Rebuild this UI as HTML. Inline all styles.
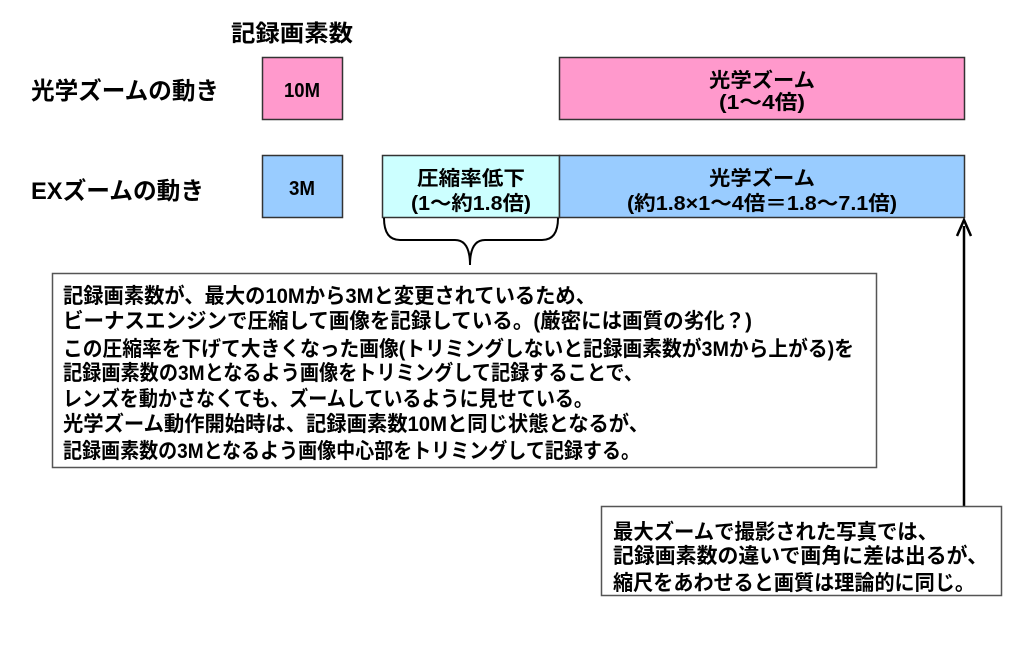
<!DOCTYPE html>
<html><head><meta charset="utf-8"><style>
html,body{margin:0;padding:0;background:#fff;}
svg{display:block;}
text{font-family:"Liberation Sans","Noto Sans CJK JP",sans-serif;font-weight:bold;fill:#000;}
</style></head><body>
<svg width="1024" height="651" viewBox="0 0 1024 651" xmlns="http://www.w3.org/2000/svg">
<rect width="1024" height="651" fill="#fff"/>
<text x="231" y="41" font-size="23" textLength="122" lengthAdjust="spacingAndGlyphs">記録画素数</text>
<text x="31" y="99" font-size="24" textLength="188" lengthAdjust="spacingAndGlyphs">光学ズームの動き</text>
<text x="31" y="199" font-size="24" textLength="173" lengthAdjust="spacingAndGlyphs">EXズームの動き</text>

<rect x="262.5" y="57.5" width="80" height="62" fill="#ff99cc" stroke="#333" stroke-width="1.5"/>
<text x="302" y="97" font-size="20" text-anchor="middle" textLength="36" lengthAdjust="spacingAndGlyphs">10M</text>
<rect x="559.5" y="57.5" width="405" height="62" fill="#ff99cc" stroke="#333" stroke-width="1.5"/>
<text x="762" y="87" font-size="20" text-anchor="middle" textLength="106" lengthAdjust="spacingAndGlyphs">光学ズーム</text>
<text x="762" y="109" font-size="20" text-anchor="middle" textLength="86" lengthAdjust="spacingAndGlyphs">(1〜4倍)</text>

<rect x="262.5" y="155.5" width="80" height="62" fill="#99ccff" stroke="#333" stroke-width="1.5"/>
<text x="302" y="195" font-size="20" text-anchor="middle" textLength="26" lengthAdjust="spacingAndGlyphs">3M</text>
<rect x="382.5" y="155.5" width="177" height="62" fill="#ccffff" stroke="#333" stroke-width="1.5"/>
<text x="471" y="185" font-size="20" text-anchor="middle" textLength="108" lengthAdjust="spacingAndGlyphs">圧縮率低下</text>
<text x="471" y="210" font-size="20" text-anchor="middle" textLength="120" lengthAdjust="spacingAndGlyphs">(1〜約1.8倍)</text>
<rect x="559.5" y="155.5" width="405" height="62" fill="#99ccff" stroke="#333" stroke-width="1.5"/>
<text x="762" y="185" font-size="20" text-anchor="middle" textLength="106" lengthAdjust="spacingAndGlyphs">光学ズーム</text>
<text x="762" y="210" font-size="20" text-anchor="middle" textLength="270" lengthAdjust="spacingAndGlyphs">(約1.8×1〜4倍＝1.8〜7.1倍)</text>

<path d="M384 218 Q384 240 400 240 L455 240 Q470 240 470 265 Q470 240 485 240 L542 240 Q558 240 558 218" fill="none" stroke="#000" stroke-width="2"/>

<rect x="52.5" y="273.5" width="824" height="194" fill="#fff" stroke="#555" stroke-width="1.5"/>
<g font-size="21">
<text x="63" y="303" textLength="533" lengthAdjust="spacingAndGlyphs">記録画素数が、最大の10Mから3Mと変更されているため、</text>
<text x="63" y="328" textLength="689" lengthAdjust="spacingAndGlyphs">ビーナスエンジンで圧縮して画像を記録している。(厳密には画質の劣化？)</text>
<text x="63" y="356" textLength="791" lengthAdjust="spacingAndGlyphs">この圧縮率を下げて大きくなった画像(トリミングしないと記録画素数が3Mから上がる)を</text>
<text x="63" y="380" textLength="580" lengthAdjust="spacingAndGlyphs">記録画素数の3Mとなるよう画像をトリミングして記録することで、</text>
<text x="63" y="406" textLength="530" lengthAdjust="spacingAndGlyphs">レンズを動かさなくても、ズームしているように見せている。</text>
<text x="63" y="431" textLength="586" lengthAdjust="spacingAndGlyphs">光学ズーム動作開始時は、記録画素数10Mと同じ状態となるが、</text>
<text x="63" y="458" textLength="577" lengthAdjust="spacingAndGlyphs">記録画素数の3Mとなるよう画像中心部をトリミングして記録する。</text>
</g>

<line x1="964" y1="506" x2="964" y2="226" stroke="#000" stroke-width="2.5"/>
<path d="M957 236 L964 220 L971 236" fill="none" stroke="#000" stroke-width="2.5"/>

<rect x="601.5" y="506.5" width="400" height="89" fill="#fff" stroke="#555" stroke-width="1.5"/>
<g font-size="21">
<text x="613" y="539" textLength="325" lengthAdjust="spacingAndGlyphs">最大ズームで撮影された写真では、</text>
<text x="613" y="563" textLength="375" lengthAdjust="spacingAndGlyphs">記録画素数の違いで画角に差は出るが、</text>
<text x="613" y="590" textLength="362" lengthAdjust="spacingAndGlyphs">縮尺をあわせると画質は理論的に同じ。</text>
</g>
</svg>
</body></html>
